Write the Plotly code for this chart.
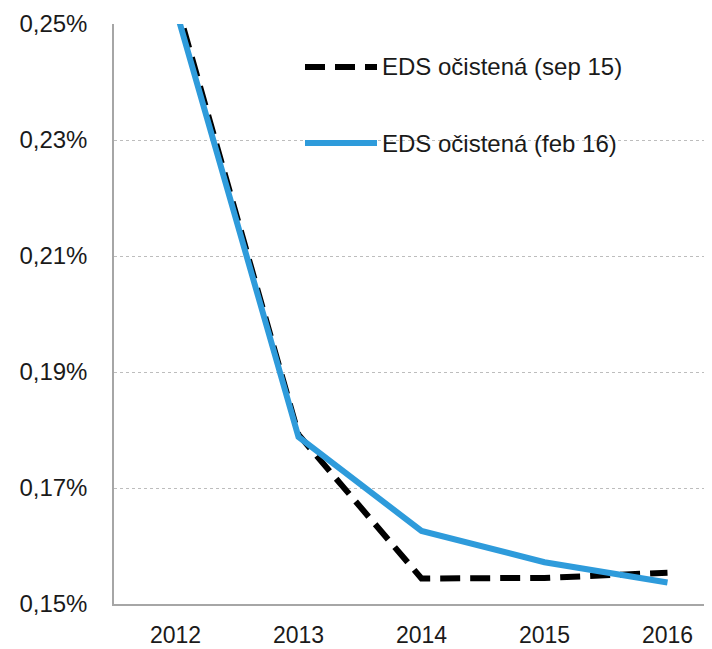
import plotly.graph_objects as go

years = ["2012", "2013", "2014", "2015", "2016"]
eds_sep15 = [0.2542, 0.1792, 0.1544, 0.1545, 0.1554]
eds_feb16 = [0.2527, 0.1788, 0.1626, 0.1572, 0.1537]
series_names = ["EDS očistená (sep 15)", "EDS očistená (feb 16)"]
y_ticks = [0.15, 0.17, 0.19, 0.21, 0.23, 0.25]
y_tick_labels = [f"{v:.2f}".replace(".", ",") + "%" for v in y_ticks]

BLUE = "#2E9BDB"
BLACK = "#000000"
FONT = dict(family="'Liberation Sans', Arial, sans-serif", size=24, color="#1a1a1a")
XFONT = dict(family="'Liberation Sans', Arial, sans-serif", size=23, color="#1a1a1a")

# page body adds an 8px offset; figure sized to fit the 712x649 window
OFF = 8
W, H = 712 - OFF, 649 - OFF
ML, MR, MT, MB = 114 - OFF, 0, 24 - OFF, 45
plot_w = W - ML - MR
plot_h = H - MT - MB
px_per_cat = 123.0

fig = go.Figure()
fig.add_trace(go.Scatter(x=years, y=eds_sep15, mode="lines", name=series_names[0],
                         line=dict(color=BLACK, width=6, dash="20px,10px"), showlegend=False))
fig.add_trace(go.Scatter(x=years, y=eds_feb16, mode="lines", name=series_names[1],
                         line=dict(color=BLUE, width=6), showlegend=False))

# manual legend (keys + labels) placed in paper coordinates (screen px -> paper)
def px_to_paper_x(px):
    return (px - OFF - ML) / plot_w

def px_to_paper_y(py):
    return (H - MB - (py - OFF)) / plot_h

legend_rows = [(67, BLACK, "20px,10px"), (143, BLUE, "solid")]
for (py, col, dash), name in zip(legend_rows, series_names):
    fig.add_shape(type="line", xref="paper", yref="paper",
                  x0=px_to_paper_x(305), x1=px_to_paper_x(377),
                  y0=px_to_paper_y(py), y1=px_to_paper_y(py),
                  line=dict(color=col, width=6, dash=dash))
    fig.add_annotation(xref="paper", yref="paper", x=px_to_paper_x(380), y=px_to_paper_y(py),
                       text=name, showarrow=False, xanchor="left", yanchor="middle",
                       font=FONT)

fig.update_layout(
    width=W, height=H,
    margin=dict(l=ML, r=MR, t=MT, b=MB, pad=0, autoexpand=False),
    plot_bgcolor="white", paper_bgcolor="white",
    font=FONT,
    showlegend=False,
)
fig.update_xaxes(
    type="category", range=[-0.5, plot_w / px_per_cat - 0.5],
    showgrid=False, showline=True, linecolor="#a6a6a6", linewidth=1.5,
    ticks="", tickfont=XFONT, ticklabelstandoff=10, zeroline=False, automargin=False,
)
fig.update_yaxes(
    range=[0.15, 0.25], tickvals=y_ticks, ticktext=y_tick_labels,
    showgrid=True, gridcolor="#bdbdbd", gridwidth=1, griddash="dot",
    showline=True, linecolor="#a6a6a6", linewidth=1.5,
    ticks="", tickfont=FONT, ticklabelstandoff=20, zeroline=False, automargin=False,
)

fig.write_html("out.html")
